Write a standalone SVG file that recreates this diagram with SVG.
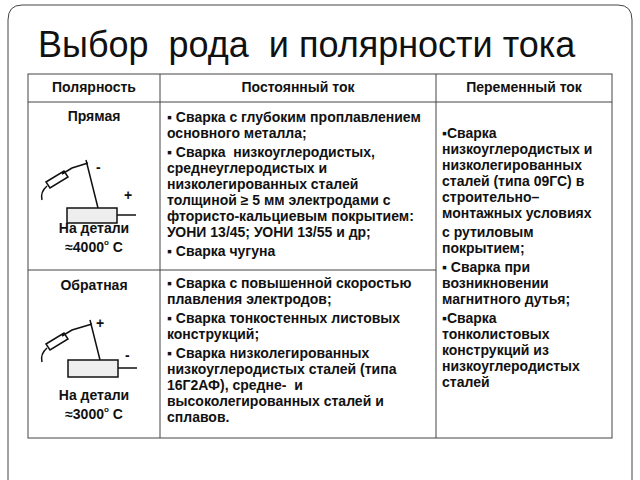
<svg xmlns="http://www.w3.org/2000/svg" width="640" height="480" viewBox="0 0 640 480">
<style>
.t{font-family:"Liberation Sans",Arial,sans-serif;font-size:14px;font-weight:bold;fill:#111}
.h{font-family:"Liberation Sans",Arial,sans-serif;font-size:14px;font-weight:bold;fill:#111}
.c{text-anchor:middle}
.ln{stroke:#444;stroke-width:1;fill:none}
.dr{stroke:#111;stroke-width:1.5;fill:none}
</style>
<rect width="640" height="480" fill="#fff"/>
<path d="M22,5 H618 Q632,5 632,20 V480 M8,480 V20 Q8,5 22,5" class="ln" stroke="#888"/>
<text x="38" y="57" xml:space="preserve" font-family="Liberation Sans,Arial,sans-serif" font-size="36" fill="#111">Выбор  рода  и полярности тока</text>
<g id="table">
<rect x="28" y="74" width="584" height="364" class="ln"/>
<line x1="28" y1="102" x2="612" y2="102" class="ln"/>
<line x1="28" y1="270" x2="436" y2="270" class="ln"/>
<line x1="160" y1="74" x2="160" y2="438" class="ln"/>
<line x1="436" y1="74" x2="436" y2="438" class="ln"/>
</g>
<g id="headers">
<text class="h c" x="94" y="92">Полярность</text>
<text class="h c" x="298" y="92">Постоянный ток</text>
<text class="h c" x="524" y="92">Переменный ток</text>
</g>
<g id="direct">
<text class="t c" x="94" y="121" font-size="14">Прямая</text>
<path class="dr" d="M86,160 L98,208 M62,174 L72,168 L88,163 M46,182 L64,171 L68,177 L50,188 Z M47,186 Q40,192 42,200"/>
<text class="t" x="96" y="172" font-weight="normal">-</text>
<text class="t" x="124" y="200">+</text>
<rect x="67" y="208" width="50" height="15" fill="#eee" stroke="#111" stroke-width="1.5"/>
<line x1="117" y1="215" x2="136" y2="215" stroke="#111" stroke-width="1.5"/>
<text class="t c" x="94" y="233" font-size="15.5">На детали</text>
<text class="t c" x="94" y="252" font-size="15.5">≈4000<tspan dy="-7" font-size="8">o</tspan><tspan dy="7"> С</tspan></text>
</g>
<g id="reverse">
<text class="t c" x="94" y="290" font-size="14">Обратная</text>
<path class="dr" d="M90,320 L100,360 M62,336 L72,330 L92,324 M46,344 L64,333 L68,339 L50,350 Z M47,348 Q40,354 42,362"/>
<text class="t" x="96" y="328" font-weight="normal">+</text>
<text class="t" x="125" y="360">-</text>
<rect x="68" y="360" width="50" height="17" fill="#eee" stroke="#111" stroke-width="1.5"/>
<line x1="118" y1="368" x2="137" y2="368" stroke="#111" stroke-width="1.5"/>
<text class="t c" x="94" y="400" font-size="15.5">На детали</text>
<text class="t c" x="94" y="419" font-size="15.5">≈3000<tspan dy="-7" font-size="8">o</tspan><tspan dy="7"> С</tspan></text>
</g>
<g id="dc1" class="t">
<text x="167" y="122">▪ Сварка с глубоким проплавлением</text>
<text x="167" y="138">основного металла;</text>
<text x="167" y="157" xml:space="preserve">▪ Сварка  низкоуглеродистых,</text>
<text x="167" y="173">среднеуглеродистых и</text>
<text x="167" y="189">низколегированных сталей</text>
<text x="167" y="205">толщиной ≥ 5 мм электродами с</text>
<text x="167" y="221">фтористо-кальциевым покрытием:</text>
<text x="167" y="237">УОНИ 13/45; УОНИ 13/55 и др;</text>
<text x="167" y="256">▪ Сварка чугуна</text>
</g>
<g id="dc2" class="t">
<text x="167" y="288">▪ Сварка с повышенной скоростью</text>
<text x="167" y="304">плавления электродов;</text>
<text x="167" y="323">▪ Сварка тонкостенных листовых</text>
<text x="167" y="339">конструкций;</text>
<text x="167" y="358">▪ Сварка низколегированных</text>
<text x="167" y="374">низкоуглеродистых сталей (типа</text>
<text x="167" y="390" xml:space="preserve">16Г2АФ), средне-  и</text>
<text x="167" y="406">высоколегированных сталей и</text>
<text x="167" y="422">сплавов.</text>
</g>
<g id="ac" class="t">
<text x="442" y="138">▪Сварка</text>
<text x="442" y="154">низкоуглеродистых и</text>
<text x="442" y="170">низколегированных</text>
<text x="442" y="186">сталей (типа 09ГС) в</text>
<text x="442" y="202">строительно–</text>
<text x="442" y="218">монтажных условиях</text>
<text x="442" y="237">с рутиловым</text>
<text x="442" y="253">покрытием;</text>
<text x="442" y="272">▪ Сварка при</text>
<text x="442" y="288">возникновении</text>
<text x="442" y="304">магнитного дутья;</text>
<text x="442" y="323">▪Сварка</text>
<text x="442" y="339">тонколистовых</text>
<text x="442" y="355">конструкций из</text>
<text x="442" y="371">низкоуглеродистых</text>
<text x="442" y="387">сталей</text>
</g>
</svg>
